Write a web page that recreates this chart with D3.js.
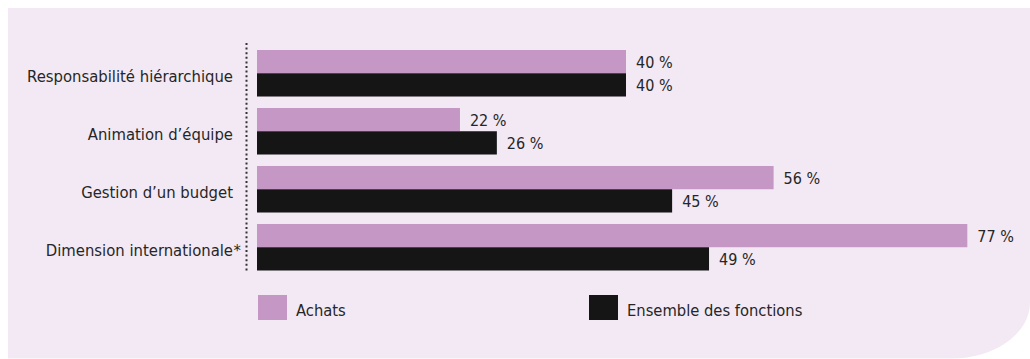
<!DOCTYPE html>
<html><head><meta charset="utf-8">
<script src="https://cdn.jsdelivr.net/npm/d3@7"></script>
<style>
html,body{margin:0;padding:0;background:#fff;}
svg{display:block;}
text{font-family:"Liberation Sans Narrow","DejaVu Sans Condensed","Arial Narrow",sans-serif;fill:#262626;}
</style></head>
<body>
<script>
const categories = ["Responsabilité hiérarchique", "Animation d’équipe", "Gestion d’un budget", "Dimension internationale*"];
const seriesNames = ["Achats", "Ensemble des fonctions"];
const achats = [40, 22, 56, 77];
const ensemble = [40, 26, 45, 49];
const colors = ["#c497c5", "#151515"];

const W = 1030, H = 359;
const svg = d3.select("body").append("svg").attr("width", W).attr("height", H);

// panel
svg.append("path")
  .attr("d", "M8,8 H1030 V302.5 A78,56 0 0 1 952,358.5 H8 Z")
  .attr("fill", "#f2e9f5");

const x = d3.scaleLinear().domain([0, 80]).range([257, 257 + 80 * 9.225]);
const y = d3.scaleBand().domain(categories).range([50, 270.5]).paddingInner(0.198).paddingOuter(0);
const ys = d3.scaleBand().domain([0, 1]).range([0, y.bandwidth()]);

const data = categories.map((c, i) => ({c, vals: [achats[i], ensemble[i]]}));

// dotted axis
svg.append("line").attr("x1", 246.5).attr("x2", 246.5).attr("y1", 43).attr("y2", 272)
  .attr("stroke", "#333").attr("stroke-width", 2).attr("stroke-dasharray", "2,2.6");

const g = svg.selectAll("g.grp").data(data).enter().append("g").attr("class", "grp")
  .attr("transform", d => `translate(0,${y(d.c)})`);

g.selectAll("rect").data(d => d.vals).enter().append("rect")
  .attr("x", x(0)).attr("y", (v, j) => ys(j)).attr("height", ys.bandwidth())
  .attr("width", v => x(v) - x(0)).attr("fill", (v, j) => colors[j]);

g.selectAll("text.val").data(d => d.vals).enter().append("text").attr("class", "val")
  .attr("x", v => x(v) + 10).attr("y", (v, j) => ys(j) + ys.bandwidth() / 2 + 6.5)
  .attr("font-size", 16).text(v => v + " %");

// category labels
g.each(function(d) {
  const star = d.c.endsWith("*");
  const base = star ? d.c.slice(0, -1) : d.c;
  const gg = d3.select(this);
  gg.append("text").attr("x", 233).attr("y", y.bandwidth() / 2 + 8.5)
    .attr("text-anchor", "end").attr("font-size", 16.5).text(base);
  if (star) gg.append("text").attr("x", 233.5).attr("y", y.bandwidth() / 2 + 8.5)
    .attr("font-size", 16.5).text("*");
});

// legend
const legX = [258, 589];
const lg = svg.selectAll("g.leg").data(seriesNames).enter().append("g").attr("class", "leg")
  .attr("transform", (d, i) => `translate(${legX[i]},295)`);
lg.append("rect").attr("width", 29).attr("height", 25).attr("fill", (d, i) => colors[i]);
lg.append("text").attr("x", 38).attr("y", 20.5).attr("font-size", 16.4).text(d => d);
</script>
</body></html>
